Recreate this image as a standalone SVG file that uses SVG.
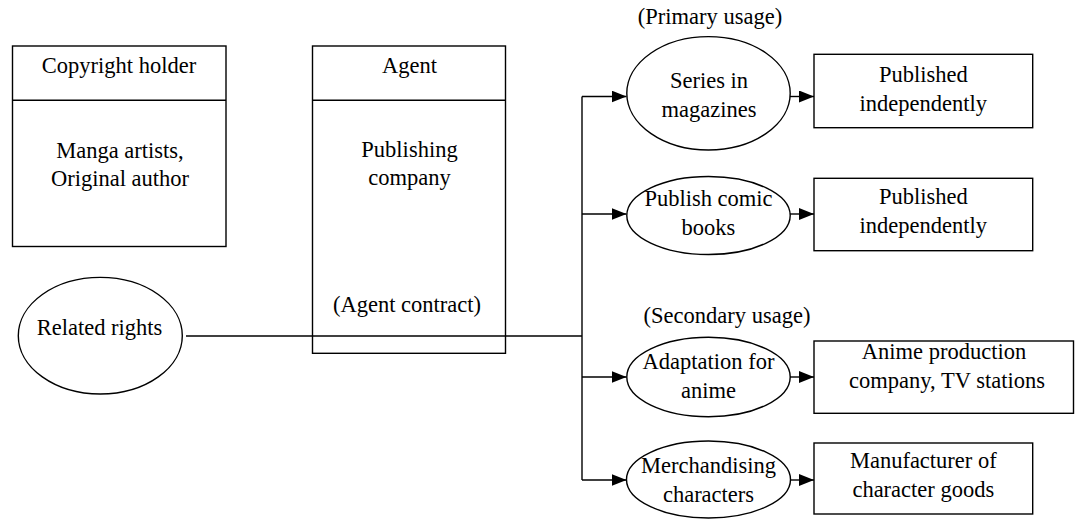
<svg xmlns="http://www.w3.org/2000/svg" width="1075" height="519" viewBox="0 0 1075 519">
<style>
.s{fill:#fff;stroke:#000;stroke-width:1.4}
.l{fill:none;stroke:#000;stroke-width:1.4}
text{font-family:"Liberation Serif","Times New Roman",serif;font-size:22.5px;fill:#000;text-anchor:middle}
</style>
<defs>
<marker id="ah" markerUnits="userSpaceOnUse" markerWidth="15" markerHeight="12" refX="15" refY="6" orient="auto">
<path d="M0,0 L15,6 L0,12 z" fill="#000"/>
</marker>
</defs>
<rect width="1075" height="519" fill="#fff"/>
<g id="copyright-holder">
<rect class="s" x="12.5" y="46" width="213.5" height="200.5"/>
<line class="l" x1="12.5" y1="100.3" x2="226" y2="100.3"/>
<text x="119" y="72.7">Copyright holder</text>
<text x="120" y="157.7">Manga artists,</text>
<text x="120" y="186">Original author</text>
</g>
<g id="agent">
<rect class="s" x="312.5" y="46" width="193" height="307.3"/>
<line class="l" x1="312.5" y1="100.3" x2="505.5" y2="100.3"/>
<text x="409.5" y="72.7">Agent</text>
<text x="409.5" y="156.7">Publishing</text>
<text x="409.5" y="185">company</text>
<text x="407" y="311.7">(Agent contract)</text>
</g>
<g id="related-rights">
<ellipse class="s" cx="100.3" cy="335.7" rx="82" ry="58.3"/>
<text x="99.5" y="335">Related rights</text>
</g>
<text id="primary-label" x="710" y="24">(Primary usage)</text>
<text id="secondary-label" x="727" y="323.3">(Secondary usage)</text>
<g id="series-in-magazines">
<ellipse class="s" cx="708.5" cy="93.3" rx="81.7" ry="56.7"/>
<text x="709" y="88.3">Series in</text>
<text x="709" y="117.3">magazines</text>
</g>
<g id="publish-comic-books">
<ellipse class="s" cx="708.5" cy="215.5" rx="81.7" ry="39"/>
<text x="708.5" y="205.7">Publish comic</text>
<text x="708.5" y="235">books</text>
</g>
<g id="adaptation-for-anime">
<ellipse class="s" cx="708.5" cy="377" rx="81.7" ry="39.7"/>
<text x="708.5" y="369">Adaptation for</text>
<text x="708.5" y="397.7">anime</text>
</g>
<g id="merchandising-characters">
<ellipse class="s" cx="708.5" cy="479.5" rx="82" ry="38.5"/>
<text x="708.5" y="473.3">Merchandising</text>
<text x="708.5" y="501.7">characters</text>
</g>
<g id="published-independently-1">
<rect class="s" x="814" y="54.3" width="218.7" height="73.4"/>
<text x="923.3" y="82.3">Published</text>
<text x="923.3" y="111">independently</text>
</g>
<g id="published-independently-2">
<rect class="s" x="814" y="178.3" width="218.7" height="72.4"/>
<text x="923.3" y="204">Published</text>
<text x="923.3" y="233.3">independently</text>
</g>
<g id="anime-production">
<rect class="s" x="814" y="341" width="259.5" height="72.3"/>
<text x="944" y="359">Anime production</text>
<text x="947" y="388.3">company, TV stations</text>
</g>
<g id="character-goods">
<rect class="s" x="814" y="443" width="218.7" height="71"/>
<text x="923.3" y="468.3">Manufacturer of</text>
<text x="923.3" y="496.7">character goods</text>
</g>
<g id="connectors">
<line class="l" x1="186" y1="336" x2="582" y2="336"/>
<line class="l" x1="582" y1="96.5" x2="582" y2="480"/>
<line class="l" x1="582" y1="96.5" x2="626.5" y2="96.5" marker-end="url(#ah)"/>
<line class="l" x1="582" y1="214" x2="626.5" y2="214" marker-end="url(#ah)"/>
<line class="l" x1="582" y1="377" x2="626.5" y2="377" marker-end="url(#ah)"/>
<line class="l" x1="582" y1="480" x2="626.5" y2="480" marker-end="url(#ah)"/>
<line class="l" x1="790" y1="96.5" x2="814" y2="96.5" marker-end="url(#ah)"/>
<line class="l" x1="790" y1="214" x2="814" y2="214" marker-end="url(#ah)"/>
<line class="l" x1="790" y1="377" x2="814" y2="377" marker-end="url(#ah)"/>
<line class="l" x1="790" y1="480" x2="814" y2="480" marker-end="url(#ah)"/>
</g>
</svg>
